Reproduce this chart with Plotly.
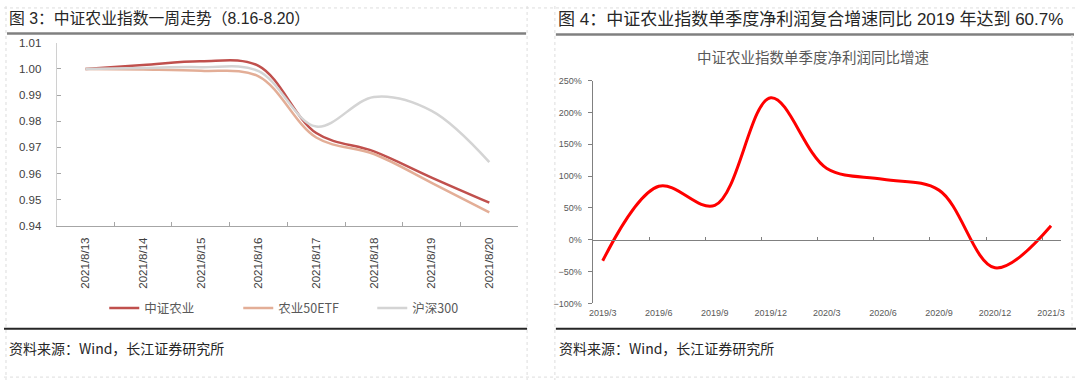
import plotly.graph_objects as go

W, H = 1080, 386

# ---- data: left chart (Figure 3) ----
dates = ["2021/8/13", "2021/8/14", "2021/8/15", "2021/8/16",
         "2021/8/17", "2021/8/18", "2021/8/19", "2021/8/20"]
zz_nongye = [1.000, 1.0015, 1.003, 1.0012, 0.9755, 0.9685, 0.9585, 0.9489]
nongye_etf = [1.000, 0.9998, 0.9993, 0.9972, 0.9738, 0.9675, 0.9565, 0.9452]
hs300 = [1.000, 1.0004, 1.0007, 0.9992, 0.9780, 0.9893, 0.9840, 0.9644]

# ---- data: right chart (Figure 4) ----
quarters = ["2019/3", "2019/6", "2019/9", "2019/12", "2020/3",
            "2020/6", "2020/9", "2020/12", "2021/3"]
profit_yoy = [-33, 84, 54, 223, 112, 95, 78, -44, 22]


def px(x):
    return x / W


def py(y):
    return 1 - y / H


LAT = "Liberation Sans, Noto Sans CJK SC, sans-serif"
CJK = "Noto Sans CJK SC, Liberation Sans, sans-serif"

fig = go.Figure()

left_styles = [("中证农业", zz_nongye, "#C0504D"),
               ("农业50ETF", nongye_etf, "#E3AE97"),
               ("沪深300", hs300, "#D4D4D4")]
for name, vals, col in left_styles:
    fig.add_trace(go.Scatter(x=dates, y=vals, name=name, mode="lines",
                             line=dict(color=col, width=2.5, shape="spline", smoothing=1.0),
                             xaxis="x", yaxis="y", hoverinfo="skip"))

fig.add_trace(go.Scatter(x=list(range(len(quarters))), y=profit_yoy, mode="lines",
                         line=dict(color="#FF0000", width=3, shape="spline", smoothing=1.0),
                         xaxis="x2", yaxis="y2", showlegend=False, hoverinfo="skip"))
# carrier for the zero-line axis
fig.add_trace(go.Scatter(x=[], y=[], xaxis="x3", yaxis="y2", showlegend=False))

ydom1 = [py(227), py(38)]
ydom2 = [py(307), py(77)]
yr2 = [-100, 250]
zero_pos = ydom2[0] + (0 - yr2[0]) / (yr2[1] - yr2[0]) * (ydom2[1] - ydom2[0])
xr2 = [-0.18, 8.18]

fig.update_layout(
    width=W, height=H, autosize=False,
    margin=dict(l=0, r=0, t=0, b=0),
    paper_bgcolor="white", plot_bgcolor="white",
    font=dict(family=LAT, color="#404040"),
    xaxis=dict(domain=[px(53), px(518)], type="category", range=[-0.5, 7.5],
               tickson="boundaries", ticks="inside", ticklen=4, tickcolor="#A6A6A6",
               showline=True, linecolor="#A6A6A6", linewidth=1, showgrid=False,
               tickangle=-90, tickfont=dict(size=11.5, color="#404040", family=LAT),
               ticklabelstandoff=6, anchor="y", zeroline=False),
    yaxis=dict(domain=ydom1, range=[0.94, 1.01], dtick=0.01, tickformat=".2f",
               ticks="inside", ticklen=4, tickcolor="#A6A6A6",
               showline=True, linecolor="#D0D0D0", linewidth=1, showgrid=False, zeroline=False,
               tickfont=dict(size=11.5, color="#404040", family=LAT),
               ticklabelstandoff=12, anchor="x"),
    xaxis2=dict(domain=[px(593), px(1065)], range=xr2, tickvals=list(range(len(quarters))),
                ticktext=quarters, showline=False, showgrid=False, zeroline=False, ticks="",
                tickfont=dict(size=9, color="#595959"), ticklabelstandoff=3, anchor="y2"),
    yaxis2=dict(domain=ydom2, range=yr2, dtick=50, ticksuffix="%", showgrid=False,
                zeroline=False, showline=True, linecolor="#808080", linewidth=1,
                ticks="outside", ticklen=4, tickcolor="#808080",
                tickfont=dict(size=9, color="#595959"), ticklabelstandoff=4, anchor="x2"),
    xaxis3=dict(overlaying="x2", anchor="free", position=zero_pos, range=xr2,
                showline=True, linecolor="#808080", linewidth=1, showgrid=False, zeroline=False,
                tickvals=[i - 0.16 for i in range(1, len(quarters))], ticks="inside",
                ticklen=3, tickcolor="#808080", showticklabels=False),
    legend=dict(orientation="h", x=px(101), y=py(312), xanchor="left", yanchor="middle",
                font=dict(size=12.5, color="#595959", family=CJK), entrywidth=89,
                entrywidthmode="pixels", bgcolor="rgba(0,0,0,0)", itemwidth=30),
)

annotations = [
    dict(text="图 3：中证农业指数一周走势（8.16-8.20）", x=px(3), y=py(13),
         font=dict(size=15.8, color="#262626", family=LAT)),
    dict(text="图 4：中证农业指数单季度净利润复合增速同比 2019 年达到 60.7%", x=px(556), y=py(14),
         font=dict(size=17, color="#262626", family=LAT)),
    dict(text="资料来源：Wind，长江证券研究所", x=px(3), y=py(353),
         font=dict(size=14, color="#262626", family=CJK)),
    dict(text="资料来源：Wind，长江证券研究所", x=px(557), y=py(353),
         font=dict(size=14, color="#262626", family=CJK)),
]
for a in annotations:
    a.update(xref="paper", yref="paper", xanchor="left", yanchor="middle", showarrow=False)
annotations.append(dict(text="中证农业指数单季度净利润同比增速", x=px(815), y=py(52),
                        xref="paper", yref="paper", xanchor="center", yanchor="middle",
                        showarrow=False, font=dict(size=14.5, color="#595959", family=CJK)))
fig.update_layout(annotations=annotations)


def hline(x0, x1, y, color, width, dash="solid"):
    return dict(type="line", xref="paper", yref="paper", x0=px(x0), x1=px(x1),
                y0=py(y), y1=py(y), line=dict(color=color, width=width, dash=dash))


def vline(x, y0, y1, color, width, dash="solid"):
    return dict(type="line", xref="paper", yref="paper", x0=px(x), x1=px(x),
                y0=py(y0), y1=py(y1), line=dict(color=color, width=width, dash=dash))


shapes = [
    hline(3, 526, 28.5, "#808080", 2.5),
    hline(556, 1078, 29.5, "#808080", 2.5),
    hline(0, 527, 333, "#262626", 2),
    hline(556, 1080, 333, "#262626", 2),
    vline(2, 0, 386, "#DDDDDD", 1, "dot"),
    vline(527, 0, 386, "#DDDDDD", 1, "dot"),
    vline(555, 0, 386, "#DDDDDD", 1, "dot"),
    vline(1076, 30, 333, "#DDDDDD", 1, "dot"),
    hline(0, 1080, 383, "#DDDDDD", 1, "dot"),
    hline(0, 1080, 2, "#DDDDDD", 1, "dot"),
]
fig.update_layout(shapes=shapes)

fig.write_html("out.html", config={"displayModeBar": False},
               post_script="document.body.style.margin='0';document.body.style.overflow='hidden';")
